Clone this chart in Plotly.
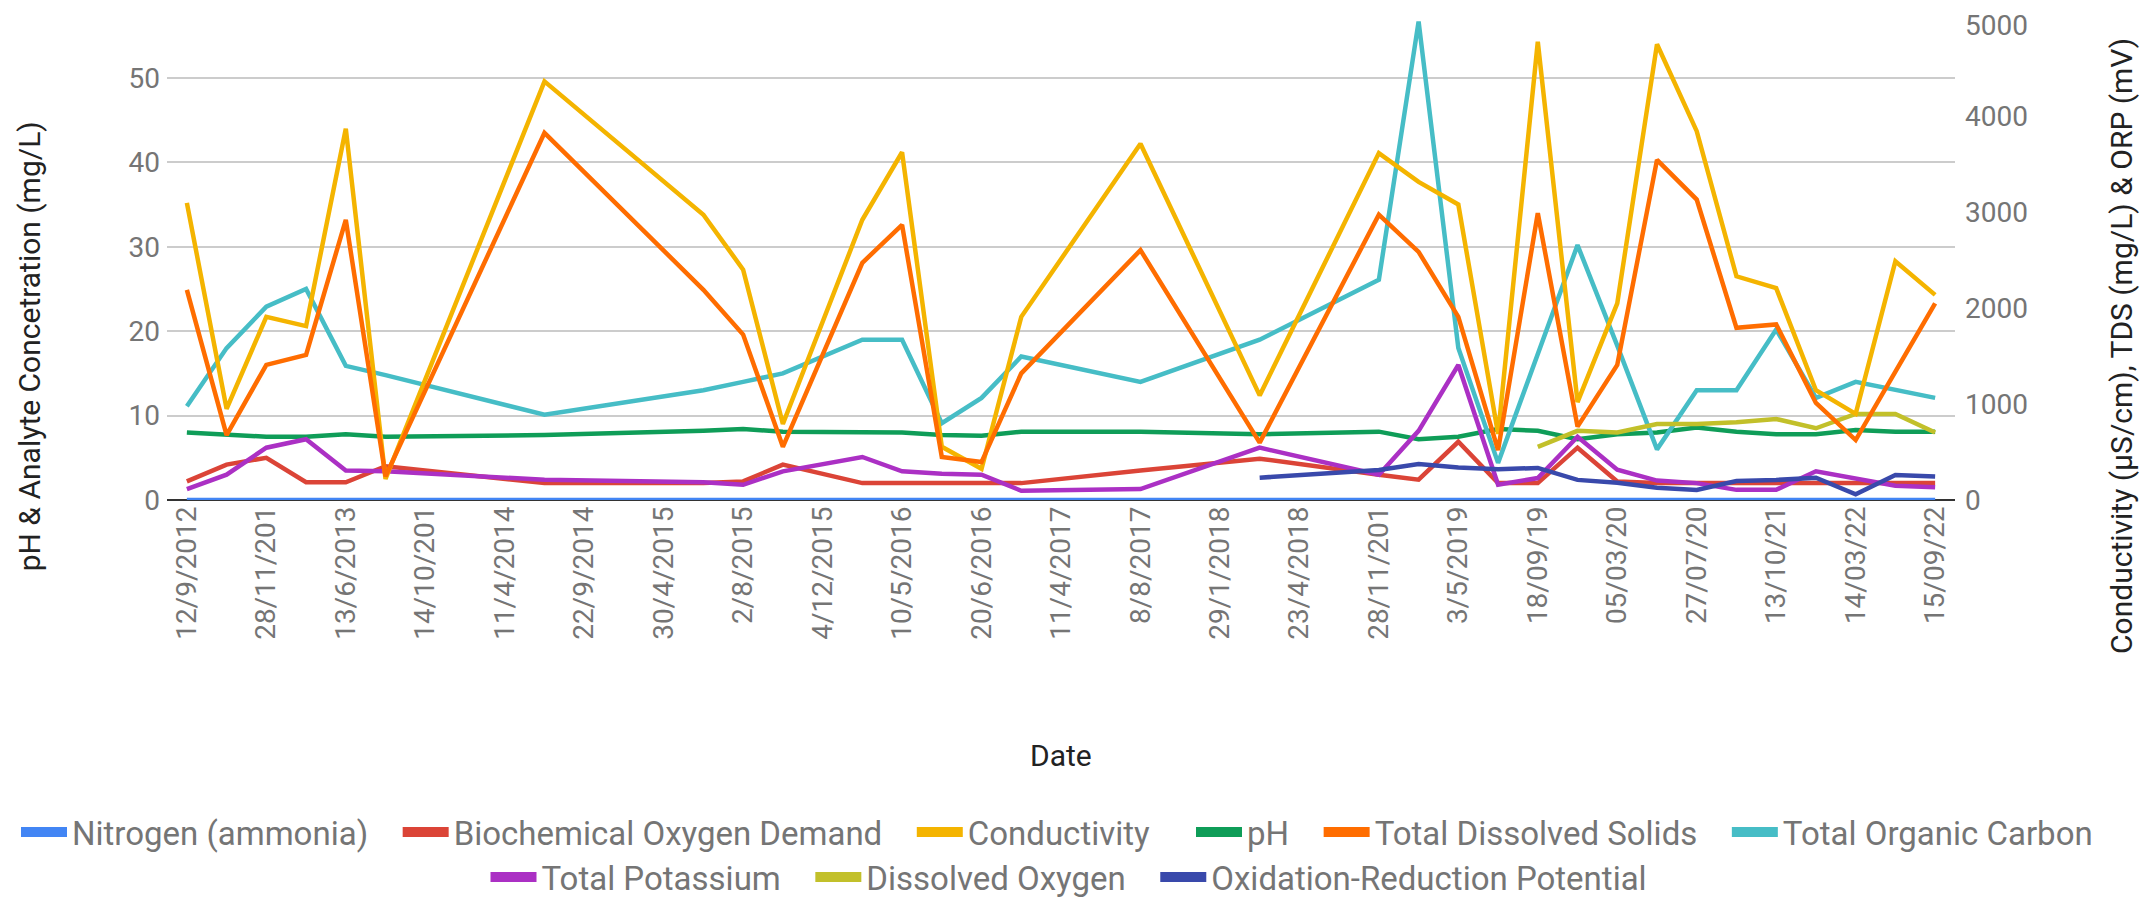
import plotly.graph_objects as go

N = None

# sample dates (categorical x axis, every other label shown)
dates = [
    "12/9/2012", "17/10/2012", "28/11/2012", "6/3/2013", "13/6/2013", "21/8/2013",
    "14/10/2013", "22/1/2014", "11/4/2014", "3/7/2014", "22/9/2014", "26/1/2015",
    "30/4/2015", "9/6/2015", "2/8/2015", "15/10/2015", "4/12/2015", "24/2/2016",
    "10/5/2016", "1/6/2016", "20/6/2016", "14/11/2016", "11/4/2017", "13/6/2017",
    "8/8/2017", "30/10/2017", "29/1/2018", "5/3/2018", "23/4/2018", "22/8/2018",
    "28/11/2018", "19/2/2019", "3/5/2019", "10/07/19", "18/09/19", "04/12/19",
    "05/03/20", "20/05/20", "27/07/20", "12/01/21", "13/10/21", "14/12/21",
    "14/03/22", "16/06/22", "15/09/22",
]

# left axis series (mg/L, pH)
ph = [8.0, 7.8, 7.5, 7.5, 7.8, 7.5, N, N, N, 7.7, N, N, N, 8.2, 8.4, 8.1, N, 8.0, 8.0, 7.7,
      7.6, 8.1, N, N, 8.1, N, N, 7.8, N, N, 8.1, 7.2, 7.5, 8.4, 8.2, 7.2, 7.8, 8.0, 8.6, 8.1,
      7.8, 7.8, 8.3, 8.1, 8.1]
nitrogen = [0 if v is not None else None for v in ph]
bod = [2.2, 4.2, 5.0, 2.1, 2.1, 4.0, N, N, N, 2.0, N, N, N, 2.0, 2.2, 4.2, N, 2.0, 2.0, 2.0,
       2.0, 2.0, N, N, 3.5, N, N, 4.9, N, N, 3.0, 2.4, 6.9, 2.0, 2.0, 6.2, 2.2, 2.0, 2.0, 2.0,
       2.0, 2.0, 2.0, 2.0, 2.0]
potassium = [1.3, 3.0, 6.2, 7.2, 3.5, 3.4, N, N, N, 2.4, N, N, N, 2.1, 1.8, 3.4, N, 5.1, 3.4, 3.1,
             3.0, 1.1, N, N, 1.3, N, N, 6.2, N, N, 3.0, 8.2, 16.0, 1.8, 2.6, 7.5, 3.6, 2.3, 2.0, 1.2,
             1.2, 3.4, 2.6, 1.7, 1.5]
toc = [11.1, 18.0, 22.9, 25.0, 15.9, 14.8, N, N, N, 10.1, N, N, N, 13.0, 14.0, 15.0, N, 19.0, 19.0, 9.1,
       12.1, 17.0, N, N, 14.0, N, N, 19.0, N, N, 26.1, 56.7, 18.0, 4.4, 17.3, 30.2, 18.3, 6.0, 13.0, 13.0,
       20.2, 12.1, 14.0, N, 12.1]
dissolved_oxygen = [N] * 34 + [6.3, 8.2, 8.0, 9.0, 9.0, 9.2, 9.6, 8.5, 10.2, 10.2, 8.0]

# right axis series (uS/cm, mg/L, mV)
conductivity = [3101, 951, 1912, 1815, 3876, 220, N, N, N, 4370, N, N, N, 2978, 2405, 793, N, 2925, 3630, 555,
                326, 1912, N, N, 3718, N, N, 1092, N, N, 3621, 3321, 3084, 690, 4784, 1022, 2053, 4757, 3850, 2335,
                2211, 1145, 899, 2493, 2141]
tds = [2194, 678, 1410, 1515, 2925, 247, N, N, N, 3832, N, N, N, 2194, 1727, 555, N, 2476, 2872, 449,
       396, 1322, N, N, 2608, N, N, 599, N, N, 2978, 2590, 1912, 520, 2995, 766, 1410, 3550, 3136, 1797,
       1832, 1013, 626, 1340, 2053]
orp = [N] * 27 + [233, N, N, 314, 376, 340, 320, 335, 210, 181, 129, 105, 198, 209, 233, 59, 261, 244]

left_ticks = [0, 10, 20, 30, 40, 50]
right_ticks = [0, 1000, 2000, 3000, 4000, 5000]

# name, values, colour, y axis, legend block
series = [
    ("Nitrogen (ammonia)", nitrogen, "#4285F4", "y", "legend"),
    ("Biochemical Oxygen Demand", bod, "#DB4437", "y", "legend"),
    ("Conductivity", conductivity, "#F4B400", "y2", "legend"),
    ("pH", ph, "#0F9D58", "y", "legend3"),
    ("Total Dissolved Solids", tds, "#FF6D00", "y2", "legend3"),
    ("Total Organic Carbon", toc, "#46BDC6", "y", "legend3"),
    ("Total Potassium", potassium, "#AB30C4", "y", "legend2"),
    ("Dissolved Oxygen", dissolved_oxygen, "#C2C02A", "y", "legend2"),
    ("Oxidation-Reduction Potential", orp, "#3949AB", "y2", "legend2"),
]
block_last = {"Conductivity", "Total Organic Carbon", "Oxidation-Reduction Potential"}

FONT = "Roboto, Arial, sans-serif"
GRAY = "#757575"
DARK = "#222222"
PAD = "\u00a0" * 3  # spacing between legend entries

# page body has an 8px margin, so the figure is a bit smaller than the window
W, H = 2142, 893

fig = go.Figure()
for name, vals, color, axis, leg in series:
    fig.add_trace(go.Scatter(
        x=dates, y=vals, name=name, mode="lines", yaxis=axis, showlegend=False,
        connectgaps=True, line=dict(color=color, width=4.5),
    ))
# legend swatches (thick block like the original)
for name, vals, color, axis, leg in series:
    fig.add_trace(go.Scatter(
        x=[None], y=[None], mode="lines", legend=leg, showlegend=True,
        name=name if name in block_last else name + PAD,
        line=dict(color=color, width=10), hoverinfo="skip",
    ))

leg_style = dict(orientation="h", yanchor="middle", xref="container", yref="container",
                 font=dict(size=33, color=GRAY), itemsizing="trace", itemwidth=46,
                 bgcolor="rgba(0,0,0,0)")
row1_y = 1 - 824 / H
row2_y = 1 - 869 / H

# right axis tick labels, left-aligned next to the plot edge
right_labels = [
    dict(text=str(v), x=1, xref="paper", y=v, yref="y2", xanchor="left", yanchor="middle",
         xshift=8, yshift=-4 if v == right_ticks[-1] else 0,
         showarrow=False, font=dict(size=28, color=GRAY))
    for v in right_ticks
]

fig.update_layout(
    width=W, height=H,
    margin=dict(l=159, r=195, t=13, b=401),
    paper_bgcolor="white", plot_bgcolor="white",
    font=dict(family=FONT, size=28, color=GRAY),
    showlegend=True,
    legend=dict(x=8 / W, xanchor="left", y=row1_y, **leg_style),
    legend3=dict(x=1183 / W, xanchor="left", y=row1_y, **leg_style),
    legend2=dict(x=1061 / W, xanchor="center", y=row2_y, **leg_style),
    annotations=[
        dict(text="pH & Analyte Concetration (mg/L)", textangle=-90, x=-0.077, y=0.3215,
             xanchor="center", yanchor="middle",
             xref="paper", yref="paper", showarrow=False, font=dict(size=30, color=DARK)),
        dict(text="Conductivity (µS/cm), TDS (mg/L) & ORP (mV)", textangle=-90, x=1.0928, y=0.3215,
             xanchor="center", yanchor="middle",
             xref="paper", yref="paper", showarrow=False, font=dict(size=30, color=DARK)),
        dict(text="Date", x=0.5, y=-0.533, xanchor="center", yanchor="middle",
             xref="paper", yref="paper", showarrow=False, font=dict(size=30, color=DARK)),
    ] + right_labels,
)

fig.update_xaxes(
    type="category", range=[-0.5, len(dates) - 0.5],
    tickmode="array", tickvals=dates[::2], ticktext=[d[:9] for d in dates[::2]],
    tickangle=-90, ticks="", showgrid=False, zeroline=False, showline=False,
    tickfont=dict(size=28, color=GRAY), automargin=False,
)
fig.update_yaxes(
    range=[0, 56.76], tickvals=left_ticks, showgrid=True,
    gridcolor="#CCCCCC", gridwidth=2, zeroline=True, zerolinecolor="#333333", zerolinewidth=2,
    showline=False, ticks="", tickfont=dict(size=28, color=GRAY), automargin=False,
    ticklabelstandoff=6,
)
fig.update_layout(yaxis2=dict(
    overlaying="y", side="right", range=[0, 5000], tickvals=right_ticks,
    showgrid=False, zeroline=False, showline=False, ticks="", showticklabels=False,
    automargin=False,
))

fig.write_html("out.html")
